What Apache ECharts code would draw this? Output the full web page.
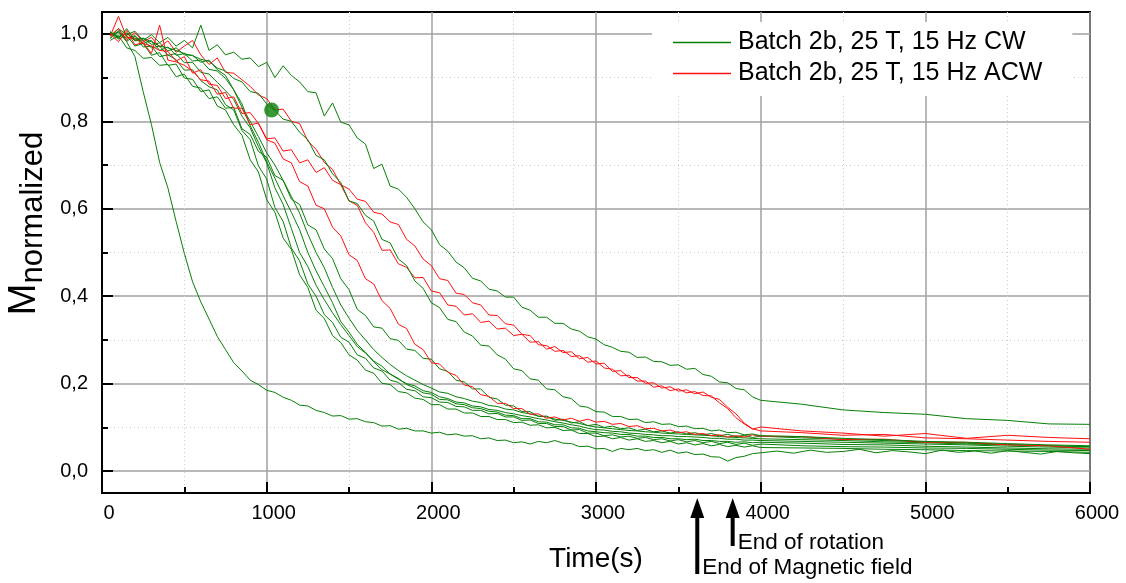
<!DOCTYPE html>
<html><head><meta charset="utf-8">
<script src="https://cdn.jsdelivr.net/npm/echarts@6/dist/echarts.min.js"></script>
<style>html,body{margin:0;padding:0;background:#fff}#c{width:1126px;height:583px}</style>
</head><body><div id="c"></div>
<script>
const CW_NAME = 'Batch 2b, 25 T, 15 Hz CW';
const ACW_NAME = 'Batch 2b, 25 T, 15 Hz ACW';
const X_TICKS = [0, 1000, 2000, 3000, 4000, 5000, 6000];
const ANNOT_TIMES = [3615, 3830];
const ANNOT_LABELS = ['End of Magnetic field', 'End of rotation'];

const T_MAIN = [50,100,150,200,250,300,350,400,450,500,
550,600,650,700,750,800,850,900,950,1000,
1050,1100,1150,1200,1250,1300,1350,1400,1450,1500,
1550,1600,1650,1700,1750,1800,1850,1900,1950,2000,
2050,2100,2150,2200,2250,2300,2350,2400,2450,2500,
2550,2600,2650,2700,2750,2800,2850,2900,2950,3000,
3050,3100,3150,3200,3250,3300,3350,3400,3450,3500,
3550,3600,3650,3700,3750,3800,3850,3900,3950,4000];
const T_TAIL = [4250,4500,4750,5000,5250,5500,5750,6000];
const T_TAIL_DENSE = [4100,4200,4300,4400,4500,4600,4700,4800,4900,5000,5100,5200,5300,5400,5500,5600,5700,5800,5900,6000];

// CW (green) curves
const CW_FAST = [0.99,1.005,0.982,0.948,0.868,0.793,0.706,0.648,0.571,0.498,
0.433,0.387,0.348,0.308,0.278,0.248,0.229,0.208,0.198,0.185,
0.18,0.169,0.162,0.151,0.149,0.139,0.134,0.126,0.127,0.119,
0.12,0.113,0.111,0.103,0.104,0.096,0.098,0.092,0.092,0.087,
0.089,0.083,0.085,0.08,0.081,0.074,0.076,0.07,0.071,0.065,
0.067,0.062,0.068,0.065,0.07,0.064,0.063,0.056,0.057,0.051,
0.052,0.045,0.052,0.049,0.052,0.047,0.049,0.043,0.048,0.041,
0.044,0.038,0.039,0.033,0.032,0.023,0.031,0.034,0.04,0.042];
const CW_FAST_TAIL = [0.046,0.041,0.048,0.043,0.045,0.05,0.042,0.047,0.044,0.04,0.048,0.043,0.046,0.041,0.047,0.043,0.039,0.045,0.042,0.04];

const CW_SLOW = [0.995,1.012,0.998,1.006,0.985,0.998,0.98,0.992,0.972,0.985,
0.968,1.02,0.962,0.975,0.952,0.958,0.942,0.945,0.925,0.935,
0.9,0.927,0.905,0.89,0.868,0.865,0.812,0.842,0.798,0.792,
0.762,0.748,0.692,0.702,0.652,0.645,0.626,0.6,0.57,0.552,
0.518,0.503,0.478,0.465,0.441,0.435,0.416,0.412,0.398,0.398,
0.375,0.368,0.352,0.352,0.338,0.338,0.325,0.32,0.307,0.302,
0.289,0.283,0.274,0.272,0.26,0.261,0.251,0.25,0.242,0.243,
0.233,0.235,0.221,0.217,0.204,0.202,0.189,0.186,0.17,0.162];
const CW_SLOW_TAIL = [0.153,0.14,0.134,0.13,0.12,0.116,0.108,0.107];

const CW_DOT = [1.005,0.99,1.012,0.985,0.99,0.982,0.972,0.968,0.962,0.955,
0.95,0.942,0.937,0.922,0.915,0.898,0.89,0.868,0.864,0.84,
0.825,0.805,0.8,0.775,0.758,0.722,0.712,0.68,0.66,0.618,
0.612,0.585,0.572,0.53,0.522,0.485,0.47,0.435,0.418,0.385,
0.374,0.347,0.342,0.318,0.309,0.288,0.286,0.266,0.256,0.234,
0.23,0.211,0.208,0.188,0.186,0.17,0.166,0.149,0.146,0.136,
0.135,0.125,0.125,0.118,0.119,0.111,0.113,0.107,0.108,0.102,
0.103,0.097,0.098,0.092,0.094,0.088,0.089,0.083,0.085,0.081];
const CW_DOT_TAIL = [0.079,0.075,0.072,0.068,0.066,0.063,0.06,0.058];
const DOT_POINT = [[1030, 0.826]];

const CW_EARLY = [0.985,0.996,0.968,0.962,0.944,0.946,0.928,0.93,0.902,0.908,
0.88,0.876,0.852,0.856,0.83,0.832,0.783,0.77,0.731,0.718,
0.676,0.665,0.622,0.61,0.563,0.552,0.508,0.486,0.44,0.415,
0.37,0.356,0.33,0.327,0.303,0.299,0.279,0.276,0.258,0.256,
0.234,0.228,0.208,0.204,0.188,0.188,0.169,0.165,0.151,0.149,
0.136,0.136,0.125,0.126,0.116,0.119,0.11,0.113,0.104,0.107,
0.1,0.103,0.097,0.099,0.093,0.096,0.09,0.092,0.087,0.09,
0.085,0.088,0.083,0.086,0.081,0.084,0.079,0.082,0.077,0.08];
const CW_EARLY_TAIL = [0.076,0.073,0.07,0.067,0.064,0.061,0.058,0.056];

const CW_B1 = [1.002,0.988,0.997,0.972,0.978,0.951,0.957,0.928,0.931,0.899,
0.896,0.868,0.872,0.835,0.826,0.792,0.768,0.712,0.684,0.621,
0.592,0.533,0.507,0.449,0.42,0.368,0.349,0.31,0.294,0.266,
0.254,0.231,0.224,0.201,0.198,0.182,0.179,0.167,0.164,0.152,
0.152,0.142,0.142,0.133,0.133,0.125,0.125,0.118,0.118,0.111,
0.112,0.105,0.106,0.099,0.1,0.093,0.094,0.086,0.086,0.079,
0.08,0.074,0.077,0.071,0.074,0.068,0.07,0.065,0.068,0.062,
0.065,0.06,0.063,0.058,0.061,0.056,0.059,0.055,0.058,0.054];
const CW_B1_TAIL = [0.053,0.052,0.05,0.049,0.047,0.046,0.045,0.043];

const CW_B2 = [0.99,1.008,0.983,0.995,0.97,0.972,0.948,0.952,0.941,0.917,
0.918,0.893,0.879,0.872,0.838,0.826,0.779,0.758,0.698,0.668,
0.603,0.571,0.51,0.481,0.428,0.4,0.358,0.34,0.306,0.295,
0.266,0.258,0.236,0.229,0.208,0.203,0.187,0.184,0.17,0.168,
0.158,0.157,0.148,0.147,0.139,0.139,0.131,0.132,0.124,0.124,
0.116,0.117,0.109,0.109,0.102,0.102,0.094,0.095,0.087,0.087,
0.081,0.083,0.078,0.08,0.075,0.077,0.072,0.074,0.069,0.072,
0.067,0.07,0.065,0.068,0.063,0.066,0.061,0.064,0.059,0.062];
const CW_B2_TAIL = [0.058,0.056,0.055,0.053,0.052,0.05,0.048,0.047];

const CW_B3 = [1.005,0.992,1.002,0.984,0.986,0.968,0.972,0.951,0.955,0.934,
0.935,0.912,0.908,0.889,0.87,0.85,0.812,0.785,0.742,0.705,
0.648,0.61,0.555,0.5,0.468,0.425,0.392,0.362,0.335,0.31,
0.285,0.27,0.252,0.24,0.222,0.212,0.198,0.19,0.179,0.176,
0.164,0.163,0.154,0.152,0.145,0.143,0.137,0.135,0.128,0.127,
0.12,0.12,0.113,0.112,0.106,0.106,0.099,0.098,0.092,0.09,
0.088,0.087,0.084,0.084,0.08,0.08,0.077,0.077,0.074,0.074,
0.072,0.073,0.07,0.07,0.068,0.068,0.066,0.067,0.065,0.066];
const CW_B3_TAIL = [0.064,0.061,0.06,0.057,0.055,0.053,0.051,0.05];

const CW_B4 = [0.998,1.004,0.99,0.996,0.978,0.985,0.962,0.97,0.951,0.955,
0.938,0.94,0.919,0.915,0.898,0.872,0.84,0.79,0.752,0.708,
0.67,0.63,0.592,0.552,0.5,0.458,0.422,0.385,0.342,0.318,
0.29,0.272,0.25,0.232,0.222,0.21,0.2,0.195,0.184,0.18,
0.17,0.166,0.158,0.156,0.149,0.147,0.141,0.139,0.134,0.131,
0.127,0.124,0.12,0.117,0.113,0.11,0.106,0.103,0.098,0.095,
0.094,0.091,0.09,0.087,0.086,0.084,0.083,0.081,0.081,0.079,
0.079,0.078,0.077,0.075,0.075,0.073,0.073,0.071,0.071,0.07];
const CW_B4_TAIL = [0.068,0.066,0.064,0.062,0.06,0.057,0.055,0.053];

const CW_B5 = [1.003,0.994,1.001,0.988,0.99,0.976,0.979,0.961,0.968,0.952,
0.951,0.935,0.94,0.918,0.905,0.872,0.832,0.8,0.765,0.728,
0.7,0.665,0.628,0.59,0.542,0.5,0.465,0.42,0.38,0.35,
0.322,0.3,0.278,0.26,0.244,0.23,0.218,0.208,0.198,0.19,
0.181,0.178,0.17,0.166,0.16,0.157,0.15,0.148,0.142,0.14,
0.134,0.131,0.126,0.124,0.119,0.116,0.112,0.109,0.104,0.101,
0.099,0.097,0.095,0.093,0.092,0.09,0.089,0.087,0.086,0.085,
0.084,0.083,0.082,0.081,0.079,0.078,0.077,0.076,0.075,0.074];
const CW_B5_TAIL = [0.072,0.07,0.067,0.065,0.062,0.06,0.058,0.056];

// ACW (red) curves
const ACW_1 = [0.995,1.04,0.992,0.99,0.978,0.972,0.962,0.96,0.938,0.948,
0.91,0.918,0.885,0.882,0.852,0.856,0.818,0.82,0.795,0.758,
0.75,0.714,0.705,0.662,0.652,0.608,0.6,0.558,0.538,0.495,
0.482,0.44,0.428,0.39,0.372,0.336,0.326,0.29,0.278,0.248,
0.245,0.226,0.219,0.197,0.193,0.175,0.171,0.155,0.155,0.143,
0.143,0.13,0.131,0.121,0.124,0.117,0.121,0.114,0.119,0.112,
0.114,0.107,0.109,0.102,0.104,0.097,0.098,0.092,0.094,0.088,
0.09,0.084,0.086,0.081,0.083,0.078,0.081,0.078,0.083,0.08];
const ACW_1_TAIL = [0.079,0.072,0.073,0.066,0.066,0.06,0.058,0.05];

const ACW_2 = [1.0,0.982,1.008,0.975,0.98,0.955,1.02,0.94,0.936,0.928,
0.915,0.895,0.892,0.862,0.866,0.83,0.83,0.792,0.796,0.76,
0.762,0.732,0.735,0.705,0.712,0.683,0.694,0.665,0.655,0.618,
0.608,0.568,0.546,0.505,0.506,0.474,0.466,0.442,0.443,0.412,
0.408,0.38,0.377,0.357,0.36,0.34,0.343,0.325,0.327,0.31,
0.313,0.295,0.296,0.279,0.285,0.271,0.273,0.257,0.26,0.245,
0.247,0.228,0.23,0.214,0.214,0.201,0.202,0.19,0.193,0.183,
0.186,0.177,0.181,0.169,0.164,0.146,0.131,0.11,0.097,0.092];
const ACW_2_TAIL = [0.088,0.082,0.084,0.076,0.074,0.071,0.068,0.066];

const ACW_3 = [0.995,1.012,0.985,1.003,0.982,0.992,0.97,0.984,0.958,0.972,
0.985,0.952,0.93,0.945,0.912,0.91,0.895,0.88,0.86,0.852,
0.826,0.828,0.8,0.795,0.755,0.736,0.706,0.69,0.655,0.645,
0.622,0.617,0.592,0.588,0.57,0.564,0.53,0.515,0.485,0.47,
0.44,0.436,0.407,0.404,0.385,0.38,0.357,0.356,0.337,0.334,
0.313,0.31,0.289,0.287,0.274,0.276,0.262,0.264,0.249,0.252,
0.236,0.233,0.218,0.219,0.206,0.206,0.192,0.195,0.184,0.188,
0.179,0.182,0.173,0.172,0.156,0.143,0.122,0.108,0.096,0.101];
const ACW_3_TAIL = [0.092,0.087,0.08,0.086,0.075,0.082,0.077,0.074];

const GREEN = '#078007';
const RED = '#ff1010';
const FONT = '"Liberation Sans", Arial, sans-serif';

function pairs(times, vals) { return times.map((t, i) => [t, vals[i]]); }
function curve(name, color, main, tailT, tail) {
  return {
    name: name, type: 'line', symbol: 'none', showSymbol: false, silent: true,
    lineStyle: { color: color, width: 1 }, itemStyle: { color: color },
    data: pairs(T_MAIN, main).concat(pairs(tailT, tail))
  };
}

const series = [
  curve(CW_NAME, GREEN, CW_FAST, T_TAIL_DENSE, CW_FAST_TAIL),
  curve(CW_NAME, GREEN, CW_SLOW, T_TAIL, CW_SLOW_TAIL),
  curve(CW_NAME, GREEN, CW_EARLY, T_TAIL, CW_EARLY_TAIL),
  curve(CW_NAME, GREEN, CW_B1, T_TAIL, CW_B1_TAIL),
  curve(CW_NAME, GREEN, CW_B2, T_TAIL, CW_B2_TAIL),
  curve(CW_NAME, GREEN, CW_B3, T_TAIL, CW_B3_TAIL),
  curve(CW_NAME, GREEN, CW_B4, T_TAIL, CW_B4_TAIL),
  curve(CW_NAME, GREEN, CW_B5, T_TAIL, CW_B5_TAIL),
  curve(ACW_NAME, RED, ACW_1, T_TAIL, ACW_1_TAIL),
  curve(ACW_NAME, RED, ACW_2, T_TAIL, ACW_2_TAIL),
  curve(ACW_NAME, RED, ACW_3, T_TAIL, ACW_3_TAIL),
  curve(CW_NAME, GREEN, CW_DOT, T_TAIL, CW_DOT_TAIL),
  { name: 'marker', type: 'scatter', silent: true, symbol: 'circle', symbolSize: 15,
    itemStyle: { color: GREEN }, z: 5, data: DOT_POINT }
];

const chart = echarts.init(document.getElementById('c'), null, { renderer: 'canvas' });
chart.setOption({
  animation: false,
  backgroundColor: '#fff',
  grid: { left: 102, right: 36, top: 12, bottom: 90, outerBoundsMode: 'none', containLabel: false,
    show: true, borderColor: '#000', borderWidth: 2, backgroundColor: 'transparent' },
  legend: {
    data: [CW_NAME, ACW_NAME], orient: 'vertical', left: 652, top: 22,
    padding: [8, 30, 10, 21], itemGap: 6, itemWidth: 58, itemHeight: 1.5,
    icon: 'rect', backgroundColor: '#fff', selectedMode: false,
    textStyle: { fontSize: 25, fontFamily: FONT, color: '#000', lineHeight: 24, padding: [0, 0, 0, 2] }
  },
  xAxis: {
    type: 'value', min: X_TICKS[0], max: X_TICKS[X_TICKS.length - 1], interval: 1000,
    name: 'Time(s)', nameLocation: 'middle', nameGap: 52,
    nameTextStyle: { fontSize: 28, fontFamily: FONT, color: '#000' },
    axisLine: { show: true, onZero: false, lineStyle: { color: '#000', width: 2 } },
    axisTick: { show: true, inside: true, length: 11, lineStyle: { color: '#000', width: 2 } },
    minorTick: { show: true, splitNumber: 2, length: 6, lineStyle: { color: '#000', width: 2 } },
    axisLabel: { fontSize: 20, fontFamily: FONT, color: '#000', margin: 10, padding: [0, 0, 0, 14],
      formatter: v => String(v) },
    splitLine: { show: true, lineStyle: { color: '#a0a0a0', width: 1.5 } },
    minorSplitLine: { show: true, lineStyle: { color: '#cccccc', width: 1, type: [1, 3] } }
  },
  yAxis: {
    type: 'value', min: -0.05, max: 1.05, splitNumber: 5,
    name: '{m|M}{s|normalized}', nameLocation: 'middle', nameRotate: 90, nameGap: 51,
    nameTextStyle: { color: '#000', fontFamily: FONT, padding: [0, 0, 0, 58],
      rich: { m: { fontSize: 38, fontFamily: FONT, color: '#000' },
              s: { fontSize: 31, fontFamily: FONT, color: '#000', verticalAlign: 'bottom', padding: [18, 0, 0, 0] } } },
    axisLine: { show: true, onZero: false, lineStyle: { color: '#000', width: 2 } },
    axisTick: { show: true, inside: true, length: 11, lineStyle: { color: '#000', width: 2 } },
    minorTick: { show: true, splitNumber: 2, length: 6, lineStyle: { color: '#000', width: 2 } },
    axisLabel: { fontSize: 20, fontFamily: FONT, color: '#000', margin: 14, showMinLabel: false, showMaxLabel: false,
      formatter: v => v.toFixed(1).replace('.', ',') },
    splitLine: { show: true, showMinLine: false, showMaxLine: false, lineStyle: { color: '#a0a0a0', width: 1.5 } },
    minorSplitLine: { show: true, lineStyle: { color: '#cccccc', width: 1, type: [1, 3] } }
  },
  series: series
});

const yTop = chart.convertToPixel({ yAxisIndex: 0 }, -0.05) + 5;
const graphics = [];
ANNOT_TIMES.forEach((t, i) => {
  const px = chart.convertToPixel({ xAxisIndex: 0 }, t);
  const bottom = i === 0 ? 574 : 546;
  const textY = i === 0 ? 568 : 543;
  graphics.push({ type: 'polygon', silent: true, shape: { points: [[px, yTop], [px - 7, yTop + 20], [px + 7, yTop + 20]] }, style: { fill: '#000' } });
  graphics.push({ type: 'rect', silent: true, shape: { x: px - 2, y: yTop + 18, width: 4, height: bottom - yTop - 18 }, style: { fill: '#000' } });
  graphics.push({ type: 'text', silent: true, x: px + 5, y: textY, style: { text: ANNOT_LABELS[i], font: '22.5px ' + FONT, fill: '#000', verticalAlign: 'middle' } });
});
chart.setOption({ graphic: graphics });
</script>
</body></html>
